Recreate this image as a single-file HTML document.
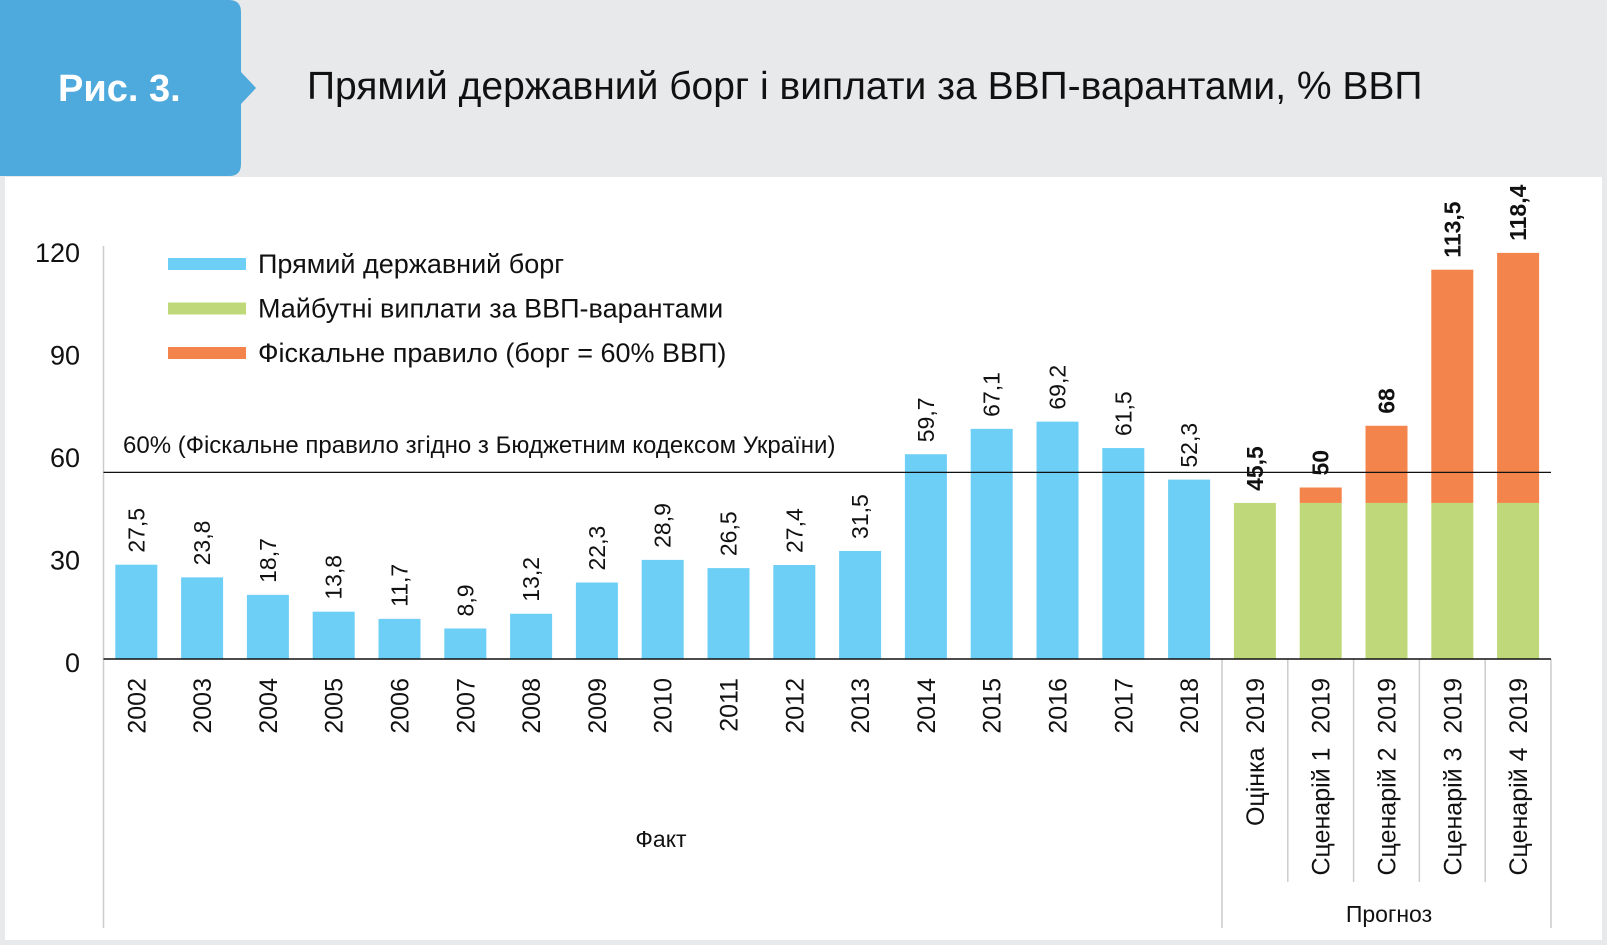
<!DOCTYPE html>
<html><head><meta charset="utf-8"><style>
body{margin:0;width:1607px;height:945px;background:#e8e9eb;overflow:hidden;font-family:"Liberation Sans",sans-serif}
svg{display:block}
</style></head><body>
<svg width="1607" height="945">
<rect x="0" y="0" width="1607" height="945" fill="#e8e9eb"/>
<rect x="5" y="177" width="1597" height="763" fill="#fff"/>
<path d="M0 0 H229 Q241 0 241 12 V72 L256 88 L241 104 V164 Q241 176 229 176 H0 Z" fill="#4ea9dd"/>
<text x="58" y="101" font-size="38" font-weight="bold" fill="#fff">Рис. 3.</text>
<text x="307" y="99" font-size="39" fill="#111">Прямий державний борг і виплати за ВВП-варантами, % ВВП</text>
<g id="plot"></g>
</svg>
<script>
const categories=["2002","2003","2004","2005","2006","2007","2008","2009","2010","2011","2012","2013","2014","2015","2016","2017","2018","Оцінка  2019","Сценарій 1  2019","Сценарій 2  2019","Сценарій 3  2019","Сценарій 4  2019"];
const debtValues=[27.5,23.8,18.7,13.8,11.7,8.9,13.2,22.3,28.9,26.5,27.4,31.5,59.7,67.1,69.2,61.5,52.3,null,null,null,null,null];
const warrantValues=[null,null,null,null,null,null,null,null,null,null,null,null,null,null,null,null,null,45.5,45.5,45.5,45.5,45.5];
const totalValues=[null,null,null,null,null,null,null,null,null,null,null,null,null,null,null,null,null,45.5,50,68,113.5,118.4];
const valueLabels=["27,5","23,8","18,7","13,8","11,7","8,9","13,2","22,3","28,9","26,5","27,4","31,5","59,7","67,1","69,2","61,5","52,3","45,5","50","68","113,5","118,4"];
const yTicks=[0,30,60,90,120];
const ruleLineValue=54.4;
const NS="http://www.w3.org/2000/svg";
const g=document.getElementById('plot');
const y0=659,k=3.43,x0=136.3,step=65.8,bw=42;
const yS=v=>y0-v*k, xS=i=>x0+i*step;
function mk(t,a,txt){const e=document.createElementNS(NS,t);for(const n in a)e.setAttribute(n,a[n]);if(txt!=null)e.textContent=txt;g.appendChild(e);return e;}
yTicks.forEach((t,i)=>{const e=mk('text',{x:80,y:253+(120-t)/30*102.5+9,'font-size':27,'text-anchor':'end',fill:'#111'},String(t));

});
let e=mk('line',{x1:103.5,y1:246,x2:103.5,y2:928,stroke:'#ccc','stroke-width':1.5});


categories.forEach((c,i)=>{
 const x=xS(i);
 if(debtValues[i]!=null){const r=mk('rect',{x:x-bw/2,y:yS(debtValues[i]),width:bw,height:debtValues[i]*k,fill:'#6dcff6'});
  
  }
 if(warrantValues[i]!=null){const r=mk('rect',{x:x-bw/2,y:yS(warrantValues[i]),width:bw,height:warrantValues[i]*k,fill:'#bfd97a'});
  
  
  const ex=totalValues[i]-warrantValues[i];
  if(ex>0){const o=mk('rect',{x:x-bw/2,y:yS(totalValues[i]),width:bw,height:ex*k,fill:'#f3844b'});
   
   }}
 const top=debtValues[i]!=null?debtValues[i]:totalValues[i];
 const bold=debtValues[i]==null;
 const ty=yS(top)-12;
 const vl=mk('text',{x:0,y:0,'font-size':23,'font-weight':bold?'bold':'normal',fill:'#111',transform:`translate(${x+8},${ty}) rotate(-90)`},valueLabels[i]);
 
 
 const cl=mk('text',{x:0,y:0,'font-size':25,'text-anchor':'end',fill:'#111',transform:`translate(${x+9},678) rotate(-90)`},c);
 cl.style.whiteSpace='pre';
 
 
});
[17,18,19,20,21,22].forEach(j=>{const xs=xS(j)-step/2;const long=(j==17||j==22);
 const l=mk('line',{x1:xs,y1:y0,x2:xs,y2:long?928:882,stroke:'#ccc','stroke-width':1.5});
 
 });
e=mk('line',{x1:103.5,y1:y0,x2:xS(21)+step/2,y2:y0,stroke:'#111','stroke-width':1.5});


e=mk('line',{x1:103.5,y1:yS(ruleLineValue),x2:xS(21)+step/2,y2:yS(ruleLineValue),stroke:'#111','stroke-width':1.2});


e=mk('text',{x:123,y:453,'font-size':24,fill:'#111'},'60% (Фіскальне правило згідно з Бюджетним кодексом України)');


e=mk('text',{x:661,y:847,'font-size':23,'text-anchor':'middle',fill:'#111'},'Факт');


e=mk('text',{x:1389,y:922,'font-size':23,'text-anchor':'middle',fill:'#111'},'Прогноз');


const legendItems=["Прямий державний борг","Майбутні виплати за ВВП-варантами","Фіскальне правило (борг = 60% ВВП)"];
const legendColors=['#6dcff6','#bfd97a','#f3844b'];
legendItems.forEach((t,i)=>{const yy=264+i*44.5;
 const s=mk('rect',{x:168,y:yy-6,width:78,height:12,fill:legendColors[i]});
 
 
 const tt=mk('text',{x:258,y:yy+9,'font-size':27,fill:'#111'},t);
 
 });
</script>
</body></html>
